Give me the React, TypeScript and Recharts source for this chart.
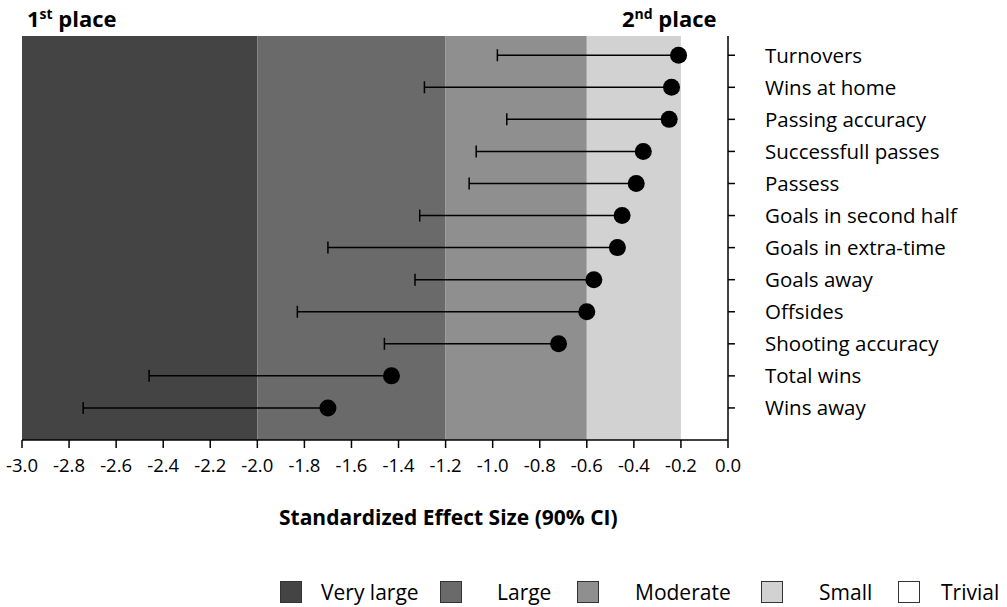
import React from 'react';
import {
  ScatterChart,
  Scatter,
  XAxis,
  YAxis,
  ErrorBar,
  ReferenceArea
} from 'recharts';

const categories = [
  'Turnovers',
  'Wins at home',
  'Passing accuracy',
  'Successfull passes',
  'Passess',
  'Goals in second half',
  'Goals in extra-time',
  'Goals away',
  'Offsides',
  'Shooting accuracy',
  'Total wins',
  'Wins away'
];
const effectSize = [-0.21, -0.24, -0.25, -0.36, -0.39, -0.45, -0.47, -0.57, -0.6, -0.72, -1.43, -1.7];
const lowerCI = [-0.98, -1.29, -0.94, -1.07, -1.1, -1.31, -1.7, -1.33, -1.83, -1.46, -2.46, -2.74];
const xTicks = [-3.0, -2.8, -2.6, -2.4, -2.2, -2.0, -1.8, -1.6, -1.4, -1.2, -1.0, -0.8, -0.6, -0.4, -0.2, 0.0];

const bands = [
  { name: 'Very large', from: -3.0, to: -2.0, color: '#444444' },
  { name: 'Large', from: -2.0, to: -1.2, color: '#6a6a6a' },
  { name: 'Moderate', from: -1.2, to: -0.6, color: '#8f8f8f' },
  { name: 'Small', from: -0.6, to: -0.2, color: '#d2d2d2' },
  { name: 'Trivial', from: -0.2, to: 0.0, color: '#ffffff' }
];

// legend item positions (square left, label left)
const legendPos = [
  [280, 321],
  [440, 497],
  [577, 635],
  [761, 819],
  [898, 941]
];

// top row sits at the highest y value
const rows = categories.map((name, i) => ({
  name,
  x: effectSize[i],
  y: categories.length - i,
  err: [effectSize[i] - lowerCI[i], 0]
}));

const FONT = '"Open Sans", sans-serif';

const Dot = (props: any) => <circle cx={props.cx} cy={props.cy} r={8.5} fill="#000" />;

export default function App() {
  return (
    <div style={{ position: 'absolute', left: 0, top: 0, width: 1007, height: 607, background: '#fff', fontFamily: FONT, color: '#000' }}>
      <ScatterChart width={1007} height={607} margin={{ top: 36, right: 0, bottom: 137, left: 22 }}>
        {bands.slice(0, 4).map((b) => (
          <ReferenceArea key={b.name} x1={b.from} x2={b.to} fill={b.color} fillOpacity={1} stroke="none" />
        ))}
        <XAxis
          type="number"
          dataKey="x"
          domain={[-3, 0]}
          ticks={xTicks}
          tickFormatter={(v: number) => v.toFixed(1)}
          tick={{ fontSize: 18.5, fill: '#000', fontFamily: FONT }}
          tickSize={8}
          tickMargin={11}
          height={30}
          stroke="#000"
          strokeWidth={1.5}
          interval={0}
        />
        <YAxis
          type="number"
          dataKey="y"
          orientation="right"
          domain={[0, 12.6]}
          ticks={rows.map((r) => r.y)}
          tickFormatter={(v: number) => categories[categories.length - v]}
          tick={{ fontSize: 20.5, fill: '#000', fontFamily: FONT, textAnchor: 'start' }}
          tickSize={7}
          tickMargin={30}
          width={279}
          stroke="#000"
          strokeWidth={1.5}
          interval={0}
        />
        <Scatter data={rows} shape={Dot} isAnimationActive={false}>
          <ErrorBar dataKey="err" direction="x" width={6} stroke="#000" strokeWidth={1.5} />
        </Scatter>
      </ScatterChart>

      <div style={{ position: 'absolute', left: 27, top: 3, fontSize: 22, fontWeight: 700 }}>
        1<sup style={{ fontSize: 14 }}>st</sup> place
      </div>
      <div style={{ position: 'absolute', left: 622, top: 3, fontSize: 22, fontWeight: 700 }}>
        2<sup style={{ fontSize: 14 }}>nd</sup> place
      </div>
      <div style={{ position: 'absolute', left: 279, top: 503, fontSize: 21, fontWeight: 700, whiteSpace: 'nowrap' }}>
        Standardized Effect Size (90% CI)
      </div>

      {bands.map((b, i) => (
        <React.Fragment key={b.name}>
          <span style={{ position: 'absolute', left: legendPos[i][0], top: 581, width: 22, height: 22, background: b.color, border: '1px solid #333', boxSizing: 'border-box' }} />
          <span style={{ position: 'absolute', left: legendPos[i][1], top: 578, fontSize: 21, lineHeight: '28px' }}>{b.name}</span>
        </React.Fragment>
      ))}
    </div>
  );
}
